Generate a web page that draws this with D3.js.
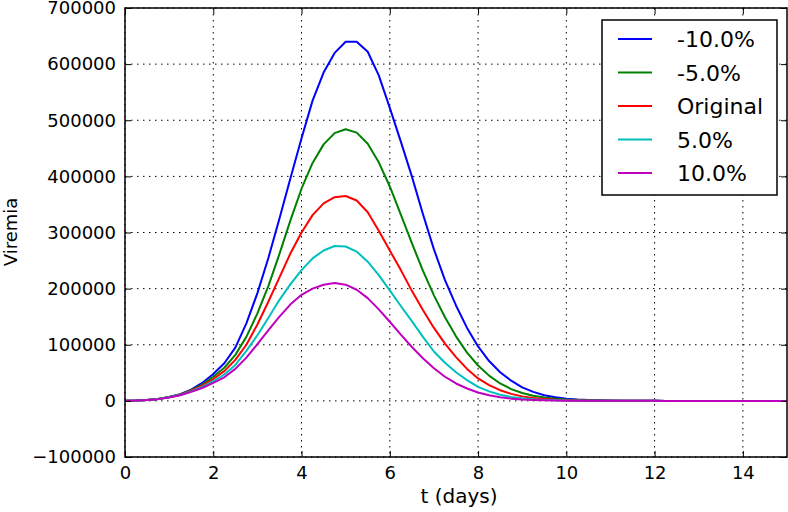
<!DOCTYPE html>
<html>
<head>
<meta charset="utf-8">
<script src="https://cdn.jsdelivr.net/npm/d3@7"></script>
<style>
  html, body { margin: 0; padding: 0; background: #fff; }
  svg { display: block; font-family: "DejaVu Sans", sans-serif; }
</style>
</head>
<body>
<svg id="chart" width="788" height="512"></svg>
<script>
// ---- data ----
const days = [0,0.25,0.5,0.75,1,1.25,1.5,1.75,2,2.25,2.5,2.75,3,3.25,3.5,3.75,4,4.25,4.5,4.75,5,5.25,5.5,5.75,6,6.25,6.5,6.75,7,7.25,7.5,7.75,8,8.25,8.5,8.75,9,9.25,9.5,9.75,10,10.25,10.5,10.75,11,11.25,11.5,11.75,12,12.25,12.5,12.75,13,13.25,13.5,13.75,14,14.25,14.5,14.75,15];

const seriesNames = ["-10.0%", "-5.0%", "Original", "5.0%", "10.0%"];
const seriesColors = ["#0000ff", "#008000", "#ff0000", "#00bfbf", "#bf00bf"];

const minus10 = [0,500,1500,3500,7000,12000,20000,32000,48000,67000,95000,138000,192000,255000,325000,397000,468000,535000,585000,620000,640000,640000,622000,580000,522000,462000,400000,333000,270000,215000,170000,130000,97000,71000,51000,36000,24000,16000,10000,6500,4000,2500,1500,900,500,300,180,100,60,0,0,0,0,0,0,0,0,0,0,0,0];
const minus5 = [0,500,1500,3400,6800,11500,19000,29000,43000,59000,82000,114000,156000,205000,262000,322000,378000,424000,457000,477000,484000,478000,458000,425000,382000,332000,281000,232000,188000,149000,115000,86000,63000,45000,31000,21000,14000,9000,6000,3800,2400,1500,900,550,320,190,110,60,35,0,0,0,0,0,0,0,0,0,0,0,0];
const original = [0,500,1450,3300,6500,11000,18000,27000,39000,53000,73000,100000,136000,177000,220000,263000,300000,331000,352000,363000,365000,357000,336000,303000,268000,233000,196000,162000,130000,102000,78000,57000,40000,28000,19000,12500,8000,5000,3200,2000,1200,700,400,230,130,70,40,20,10,0,0,0,0,0,0,0,0,0,0,0,0];
const plus5 = [0,500,1400,3200,6300,10500,17000,25000,35000,47000,64000,89000,117000,148000,180000,208000,233000,254000,268000,276000,275000,266000,248000,224000,197000,169000,142000,114000,88000,68000,51000,37000,25000,17000,11000,7000,4500,2800,1700,1000,600,350,200,110,60,30,15,8,4,0,0,0,0,0,0,0,0,0,0,0,0];
const plus10 = [0,480,1350,3100,6000,10000,16000,23000,32000,42000,57000,77000,101000,126000,150000,172000,189000,200000,207000,210000,207000,198000,183000,163000,141000,118000,96000,76000,58000,43000,31000,22000,15000,10000,6500,4000,2500,1500,900,550,320,180,100,55,30,15,8,4,2,0,0,0,0,0,0,0,0,0,0,0,0];

const xTicks = [0, 2, 4, 6, 8, 10, 12, 14];
const yTicks = [-100000, 0, 100000, 200000, 300000, 400000, 500000, 600000, 700000];
const xLabel = "t (days)";
const yLabel = "Viremia";

// ---- layout ----
const svg = d3.select("#chart");
const mL = 125, mR = 787, mT = 8, mB = 457;
const x = d3.scaleLinear().domain([0, 15]).range([mL, mR]);
const y = d3.scaleLinear().domain([-100000, 700000]).range([mB, mT]);

const allSeries = [minus10, minus5, original, plus5, plus10];

// grid
const grid = svg.append("g");
grid.selectAll("line.gx").data(xTicks).enter().append("line")
  .attr("x1", d => x(d)).attr("x2", d => x(d))
  .attr("y1", mT).attr("y2", mB)
  .attr("stroke", "#000").attr("stroke-width", 1).attr("stroke-dasharray", "1.5,4.5");
grid.selectAll("line.gy").data(yTicks).enter().append("line")
  .attr("y1", d => y(d)).attr("y2", d => y(d))
  .attr("x1", mL).attr("x2", mR)
  .attr("stroke", "#000").attr("stroke-width", 1).attr("stroke-dasharray", "1.5,4.5");

// lines
const line = d3.line().x((d, i) => x(days[i])).y(d => y(d));
svg.append("clipPath").attr("id", "clip").append("rect")
  .attr("x", mL).attr("y", mT).attr("width", mR - mL).attr("height", mB - mT);
svg.append("g").attr("clip-path", "url(#clip)")
  .selectAll("path").data(allSeries).enter().append("path")
  .attr("d", d => line(d))
  .attr("fill", "none")
  .attr("stroke", (d, i) => seriesColors[i])
  .attr("stroke-width", 2)
  .attr("stroke-linejoin", "round");

// axes (ticks inward, all four sides)
const fmt = d3.format("d");
const axB = svg.append("g").attr("transform", `translate(0,${mB})`)
  .call(d3.axisBottom(x).tickValues(xTicks).tickFormat(fmt).tickSizeInner(-6).tickSizeOuter(0).tickPadding(9));
const axL = svg.append("g").attr("transform", `translate(${mL},0)`)
  .call(d3.axisLeft(y).tickValues(yTicks).tickFormat(fmt).tickSizeInner(-6).tickSizeOuter(0).tickPadding(9));
const axT = svg.append("g").attr("transform", `translate(0,${mT})`)
  .call(d3.axisTop(x).tickValues(xTicks).tickFormat("").tickSizeInner(-6).tickSizeOuter(0));
const axR = svg.append("g").attr("transform", `translate(${mR},0)`)
  .call(d3.axisRight(y).tickValues(yTicks).tickFormat("").tickSizeInner(-6).tickSizeOuter(0));
[axB, axL, axT, axR].forEach(a => {
  a.select(".domain").remove();
  a.selectAll(".tick line").attr("stroke", "#000").attr("stroke-width", 1);
  a.selectAll("text").attr("font-size", 18).attr("fill", "#000")
    .attr("font-family", "DejaVu Sans, sans-serif");
});

// frame
svg.append("rect").attr("x", mL).attr("y", mT)
  .attr("width", mR - mL).attr("height", mB - mT)
  .attr("fill", "none").attr("stroke", "#000").attr("stroke-width", 1.5);

// axis labels
svg.append("text").attr("x", (mL + mR) / 2 + 3).attr("y", 503)
  .attr("text-anchor", "middle").attr("font-size", 20).text(xLabel);
svg.append("text").attr("transform", "translate(17,232) rotate(-90)")
  .attr("text-anchor", "middle").attr("font-size", 18).text(yLabel);

// legend
const lg = svg.append("g");
lg.append("rect").attr("x", 602).attr("y", 20).attr("width", 175).attr("height", 175)
  .attr("fill", "#fff").attr("stroke", "#000").attr("stroke-width", 1.5);
seriesNames.forEach((name, i) => {
  const cy = 39 + i * 33.5;
  lg.append("line").attr("x1", 618).attr("x2", 652).attr("y1", cy).attr("y2", cy)
    .attr("stroke", seriesColors[i]).attr("stroke-width", 2);
  lg.append("text").attr("x", 677).attr("y", cy + 8).attr("font-size", 22).text(name);
});
</script>
</body>
</html>
